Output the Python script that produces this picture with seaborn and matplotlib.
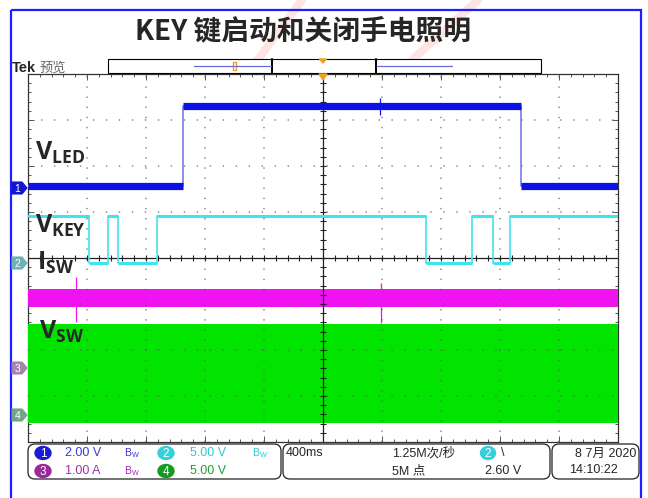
import matplotlib
matplotlib.use("Agg")
import matplotlib.pyplot as plt
import seaborn as sns
import pandas as pd
from matplotlib import font_manager
from matplotlib.patches import FancyBboxPatch, Polygon, Rectangle, Ellipse

sns.set_style("white")
plt.rcParams["font.family"] = ["DejaVu Sans", "Noto Sans CJK SC"]

_installed = {f.name for f in font_manager.fontManager.ttflist}


def pick(*names):
    for n in names:
        if n in _installed:
            return n
    return "DejaVu Sans"


NARROW = pick("Liberation Sans Narrow", "Liberation Sans", "DejaVu Sans")
LABEL = pick("Open Sans", "Lato", "Noto Sans")
CJK = "Noto Sans CJK SC"
plt.rcParams["mathtext.fontset"] = "custom"
plt.rcParams["mathtext.bf"] = f"{LABEL}:bold"
plt.rcParams["mathtext.rm"] = NARROW

# ---------------- scope settings ----------------
title = "KEY 键启动和关闭手电照明"
time_per_div_ms = 400
n_hdiv, n_vdiv = 10, 8
ch_names = ["1", "2", "3", "4"]
ch_scale = [2.0, 5.0, 1.0, 5.0]           # per division
ch_unit = ["V", "V", "A", "V"]
ch_ground_div = [1.52, -0.11, -2.39, -3.41]  # ground marker position (div)
trig_level_v = 2.60
sample_rate = "1.25M次/秒"
record_len = "5M 点"
date_txt = "8 7月 2020"
time_txt = "14:10:22"

# ---------------- waveforms (time in ms, trigger at 0) ----------------
vled_t = [-2000, -951, 1342, 2000]
vled_v = [0.08, 3.56, 0.08, 0.08]
vled_spike_t = [386]
vled_spike_lo = [3.17]
vled_spike_hi = [3.91]

vkey_t = [-2000, -1584, -1456, -1392, -1127, 698, 1008, 1150, 1268, 2000]
vkey_v = [5.1, 0.05, 5.1, 0.05, 5.1, 0.05, 5.1, 0.05, 5.1, 5.1]

isw_t = [-2000, 2000]
isw_lo = [1.33, 1.33]
isw_hi = [1.72, 1.72]
isw_spike_t = [-1675, 393]
isw_spike_lo = [1.00, 0.98]
isw_spike_hi = [1.98, 1.85]

vsw_t = [-2000, 2000]
vsw_lo = [-0.87, -0.87]
vsw_hi = [9.89, 9.89]

C1, C1_EDGE = "#0b12e8", "#7a7ae6"
C2 = "#3ee4ee"
C3 = "#f012f0"
C4 = "#00e400"


def to_div(values, ch):
    i = ch_names.index(ch)
    return [v / ch_scale[i] + ch_ground_div[i] for v in values]


W, H = 648, 498
fig = plt.figure(figsize=(W / 100, H / 100), dpi=100)
fig.patch.set_facecolor("white")

# faint pink stamp strokes in the page background
bg = fig.add_axes([0, 0, 1, 1], zorder=-1)
bg.set_xlim(0, W)
bg.set_ylim(H, 0)
bg.axis("off")
for (xa, ya), (xb, yb) in [((302, 0), (256, 62)), ((478, 0), (412, 60))]:
    bg.plot([xa, xb], [ya, yb], color="#ff6b6b", alpha=0.18, lw=6, solid_capstyle="round")

# scope graticule area
gx0, gx1, gy0, gy1 = 28, 618, 74, 442
ax = fig.add_axes([gx0 / W, 1 - gy1 / H, (gx1 - gx0) / W, (gy1 - gy0) / H])
half_t = time_per_div_ms * n_hdiv / 2
ax.set_xlim(-half_t, half_t)
ax.set_ylim(-n_vdiv / 2, n_vdiv / 2)
ax.set_facecolor("white")

# dotted graticule, drawn over the dense bands
px_per_pt = 100 / 72
hdot = (gx1 - gx0) / n_hdiv / 5 / px_per_pt
vdot = (gy1 - gy0) / n_vdiv / 5 / px_per_pt
for k in range(1, n_vdiv):
    y = -n_vdiv / 2 + k
    if y != 0:
        ax.axhline(y, color="#606060", alpha=0.75, lw=1.1, ls=(0, (0.9, hdot - 0.9)), zorder=3.5)
for k in range(1, n_hdiv):
    x = -half_t + k * time_per_div_ms
    if x != 0:
        ax.axvline(x, color="#606060", alpha=0.75, lw=1.1, ls=(0, (0.9, vdot - 0.9)), zorder=3.5)
ax.axhline(0, color="#222222", lw=0.9, zorder=3.5)
ax.axvline(0, color="#222222", lw=0.9, zorder=3.5)
minor_x = [-half_t + k * time_per_div_ms / 5 for k in range(1, n_hdiv * 5)]
minor_y = [-n_vdiv / 2 + k / 5 for k in range(1, n_vdiv * 5)]
ax.plot(minor_x, [0] * len(minor_x), ls="none", marker="|", ms=4, mew=0.8, color="#222222", zorder=3.5)
ax.plot([0] * len(minor_y), minor_y, ls="none", marker="_", ms=4, mew=0.8, color="#222222", zorder=3.5)

ax.set_xticks([-half_t + k * time_per_div_ms for k in range(n_hdiv + 1)])
ax.set_yticks([-n_vdiv / 2 + k for k in range(n_vdiv + 1)])
ax.set_xticks(minor_x, minor=True)
ax.set_yticks(minor_y, minor=True)
ax.tick_params(which="both", direction="in", top=True, right=True, bottom=True, left=True,
               labelbottom=False, labelleft=False, color="#555555", width=0.7)
ax.tick_params(which="major", length=4)
ax.tick_params(which="minor", length=2.5)
for s in ax.spines.values():
    s.set_color("#333333")
    s.set_linewidth(0.9)

# channel 4: switching node, dense band
ax.fill_between(vsw_t, to_div(vsw_lo, "4"), to_div(vsw_hi, "4"), color=C4, lw=0, zorder=3)
# channel 3: inductor current band
ax.fill_between(isw_t, to_div(isw_lo, "3"), to_div(isw_hi, "3"), color=C3, lw=0, zorder=3)
ax.vlines(isw_spike_t, to_div(isw_spike_lo, "3"), to_div(isw_spike_hi, "3"), color=C3, lw=0.9, zorder=3)

# channel 2: key voltage
key_df = pd.DataFrame({"t": vkey_t, "div": to_div(vkey_v, "2")})
sns.lineplot(data=key_df, x="t", y="div", ax=ax, drawstyle="steps-post", estimator=None,
             sort=False, color=C2, lw=1.2, zorder=4)
ax.hlines(key_df["div"][:-1], key_df["t"][:-1], key_df["t"][1:], color=C2, lw=2.2, zorder=4)

# channel 1: LED voltage
led_df = pd.DataFrame({"t": vled_t, "div": to_div(vled_v, "1")})
sns.lineplot(data=led_df, x="t", y="div", ax=ax, drawstyle="steps-post", estimator=None,
             sort=False, color=C1_EDGE, lw=1.2, zorder=5)
ax.hlines(led_df["div"][:-1], led_df["t"][:-1], led_df["t"][1:], color=C1, lw=5.2, zorder=5)
ax.vlines(vled_spike_t, to_div(vled_spike_lo, "1"), to_div(vled_spike_hi, "1"), color=C1, lw=0.9, zorder=5)
ax.set_xlabel("")
ax.set_ylabel("")
if ax.get_legend():
    ax.get_legend().remove()

# ---------------- overlay: frame, title, labels, readouts ----------------
cv = fig.add_axes([0, 0, 1, 1], zorder=5)
cv.set_xlim(0, W)
cv.set_ylim(H, 0)
cv.axis("off")
cv.patch.set_alpha(0)

cv.add_patch(Rectangle((11, 10), 630, 520, fill=False, ec="#1e1eff", lw=1.6))
cv.text(303, 31, title, ha="center", va="center", fontsize=20, fontweight="bold", family=[CJK])

# header: brand + preview bar
cv.text(12, 72, "Tek", fontsize=10.5, fontweight="bold", family=[NARROW], va="baseline")
cv.text(39, 72, "预览", fontsize=9.5, color="#666666", family=[CJK], va="baseline")
cv.add_patch(Rectangle((108, 59), 433, 14, fc="white", ec="black", lw=0.8))
cv.plot([272, 272], [59, 73], color="black", lw=1.4)
cv.plot([376, 376], [59, 73], color="black", lw=1.4)
cv.plot([194, 271], [66, 66], color="#6a6ad6", lw=0.9)
cv.plot([377, 452], [66, 66], color="#6a6ad6", lw=0.9)
cv.add_patch(Rectangle((233, 62), 3, 8, fill=False, ec="#f0a020", lw=1.0))
cv.add_patch(Polygon([(319.5, 59), (326.5, 59), (323, 63)], color="#f0a020"))
cv.add_patch(Polygon([(319, 74), (327, 74), (323, 80)], color="#f0a020"))

# channel ground markers
marker_y = [188, 263, 368, 415]
marker_fc = ["#1414d2", "#6fb2b2", "#a485ad", "#72a486"]
for name, y, fc in zip(ch_names, marker_y, marker_fc):
    cv.add_patch(Polygon([(12, y - 6), (22, y - 6), (27, y), (22, y + 6), (12, y + 6)],
                         closed=True, fc=fc, ec=fc, lw=0.8, joinstyle="round"))
    cv.text(17.5, y + 0.5, name, ha="center", va="center", fontsize=7.5, color="white", family=[NARROW])

# trace labels with subscripts
labels = [("V", "LED", 35, 160), ("V", "KEY", 35, 233), ("I", "SW", 37, 270), ("V", "SW", 39, 339)]
for main, sub, x0, y0 in labels:
    cv.text(x0, y0, rf"$\mathbf{{{main}}}_{{\mathbf{{{sub}}}}}$", fontsize=18, va="baseline")

# readout boxes
for x, w in [(28, 253), (283, 267), (552, 87)]:
    cv.add_patch(FancyBboxPatch((x, 444), w, 35, boxstyle="round,pad=0,rounding_size=7",
                                fc="white", ec="#222222", lw=0.9))

badge = ["#1b1bd6", "#34d0dc", "#9a2a9a", "#149a20"]
txtc = ["#3a3ad0", "#30c8d6", "#a030a8", "#20a030"]
rows = [453, 471]
slots = [(43, 65, 124), (166, 190, 252)]
FS = 9
for i, name in enumerate(ch_names):
    s = slots[i % 2]
    y = rows[0] if i < 2 else rows[1]
    cv.add_patch(Ellipse((s[0], y), 16, 13, color=badge[i]))
    cv.text(s[0], y + 0.5, name, ha="center", va="center", fontsize=8.5, color="white", family=[NARROW])
    cv.text(s[1], y, f"{ch_scale[i]:.2f} {ch_unit[i]}", ha="left", va="center", fontsize=FS,
            color=txtc[i], family=[NARROW])
    if i != 3:
        cv.text(s[2], y, r"$\mathrm{B_W}$", ha="left", va="center", fontsize=7.5, color=txtc[i])

cv.text(286, 453, f"{time_per_div_ms}ms", ha="left", va="center", fontsize=FS, family=[NARROW, CJK])
cv.text(392, 453, sample_rate, ha="left", va="center", fontsize=FS, family=[NARROW, CJK])
cv.text(392, 471, record_len, ha="left", va="center", fontsize=FS, family=[NARROW, CJK])
cv.add_patch(Ellipse((488, 453), 15, 13, color=badge[1]))
cv.text(488, 453.5, "2", ha="center", va="center", fontsize=8.5, color="white", family=[NARROW])
cv.text(501, 453, "\\", ha="left", va="center", fontsize=FS, family=[NARROW])
cv.text(485, 471, f"{trig_level_v:.2f} V", ha="left", va="center", fontsize=FS, family=[NARROW])
cv.text(636, 454, date_txt, ha="right", va="center", fontsize=FS, family=[NARROW, CJK])
cv.text(569, 470, time_txt, ha="left", va="center", fontsize=FS, family=[NARROW])

fig.savefig("out.png", dpi=100, facecolor="white")
